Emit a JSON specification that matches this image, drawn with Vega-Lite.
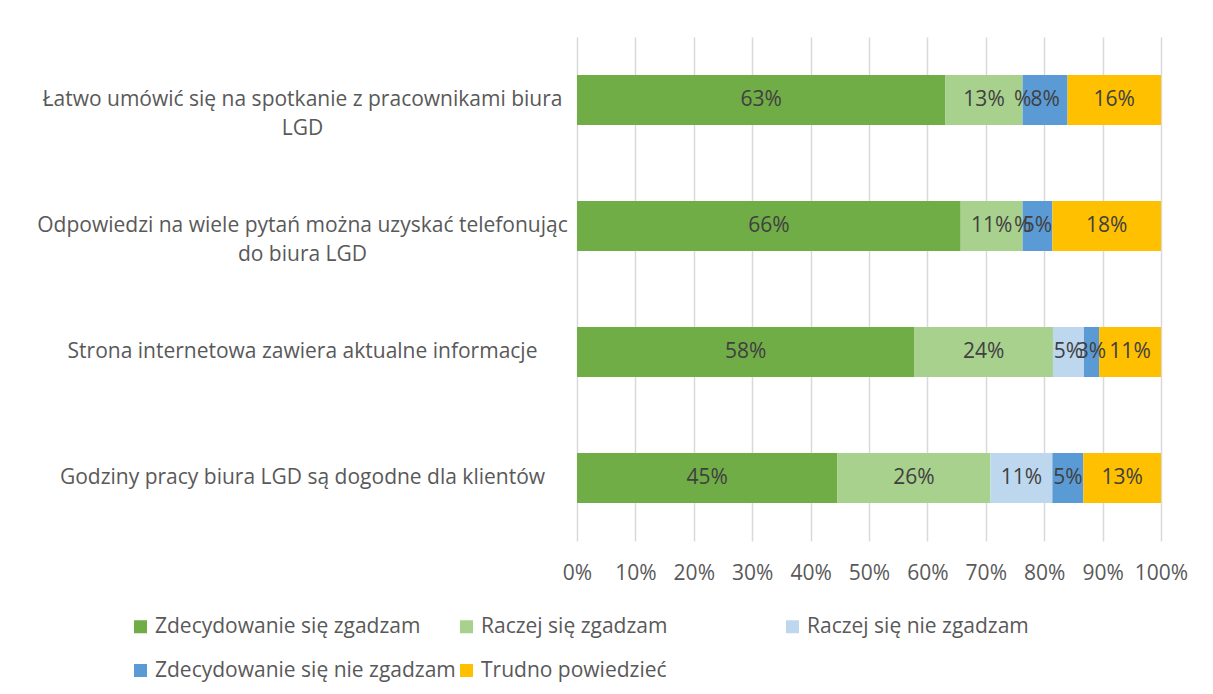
{
  "$schema": "https://vega.github.io/schema/vega-lite/v6.json",
  "width": 584,
  "height": 504,
  "autosize": {"type": "none"},
  "padding": {"left": 577, "top": 37, "right": 52, "bottom": 153},
  "background": "white",
  "config": {"view": {"stroke": null}, "font": "Open Sans"},
  "data": {
    "values": [
      {"q": "Łatwo umówić się na spotkanie z pracownikami biura|LGD", "cat": "Zdecydowanie się zgadzam", "order": 1, "value": 63.1, "label": "63%"},
      {"q": "Łatwo umówić się na spotkanie z pracownikami biura|LGD", "cat": "Raczej się zgadzam", "order": 2, "value": 13.2, "label": "13%"},
      {"q": "Łatwo umówić się na spotkanie z pracownikami biura|LGD", "cat": "Raczej się nie zgadzam", "order": 3, "value": 0, "label": "%"},
      {"q": "Łatwo umówić się na spotkanie z pracownikami biura|LGD", "cat": "Zdecydowanie się nie zgadzam", "order": 4, "value": 7.7, "label": "8%"},
      {"q": "Łatwo umówić się na spotkanie z pracownikami biura|LGD", "cat": "Trudno powiedzieć", "order": 5, "value": 16.0, "label": "16%"},
      {"q": "Odpowiedzi na wiele pytań można uzyskać telefonując|do biura LGD", "cat": "Zdecydowanie się zgadzam", "order": 1, "value": 65.7, "label": "66%"},
      {"q": "Odpowiedzi na wiele pytań można uzyskać telefonując|do biura LGD", "cat": "Raczej się zgadzam", "order": 2, "value": 10.6, "label": "11%"},
      {"q": "Odpowiedzi na wiele pytań można uzyskać telefonując|do biura LGD", "cat": "Raczej się nie zgadzam", "order": 3, "value": 0, "label": "%"},
      {"q": "Odpowiedzi na wiele pytań można uzyskać telefonując|do biura LGD", "cat": "Zdecydowanie się nie zgadzam", "order": 4, "value": 5.1, "label": "5%"},
      {"q": "Odpowiedzi na wiele pytań można uzyskać telefonując|do biura LGD", "cat": "Trudno powiedzieć", "order": 5, "value": 18.6, "label": "18%"},
      {"q": "Strona internetowa zawiera aktualne informacje", "cat": "Zdecydowanie się zgadzam", "order": 1, "value": 57.8, "label": "58%"},
      {"q": "Strona internetowa zawiera aktualne informacje", "cat": "Raczej się zgadzam", "order": 2, "value": 23.7, "label": "24%"},
      {"q": "Strona internetowa zawiera aktualne informacje", "cat": "Raczej się nie zgadzam", "order": 3, "value": 5.3, "label": "5%"},
      {"q": "Strona internetowa zawiera aktualne informacje", "cat": "Zdecydowanie się nie zgadzam", "order": 4, "value": 2.6, "label": "3%"},
      {"q": "Strona internetowa zawiera aktualne informacje", "cat": "Trudno powiedzieć", "order": 5, "value": 10.6, "label": "11%"},
      {"q": "Godziny pracy biura LGD są dogodne dla klientów", "cat": "Zdecydowanie się zgadzam", "order": 1, "value": 44.6, "label": "45%"},
      {"q": "Godziny pracy biura LGD są dogodne dla klientów", "cat": "Raczej się zgadzam", "order": 2, "value": 26.2, "label": "26%"},
      {"q": "Godziny pracy biura LGD są dogodne dla klientów", "cat": "Raczej się nie zgadzam", "order": 3, "value": 10.6, "label": "11%"},
      {"q": "Godziny pracy biura LGD są dogodne dla klientów", "cat": "Zdecydowanie się nie zgadzam", "order": 4, "value": 5.3, "label": "5%"},
      {"q": "Godziny pracy biura LGD są dogodne dla klientów", "cat": "Trudno powiedzieć", "order": 5, "value": 13.3, "label": "13%"}
    ]
  },
  "transform": [
    {"stack": "value", "groupby": ["q"], "sort": [{"field": "order"}], "as": ["v0", "v1"]},
    {"calculate": "(datum.v0 + datum.v1) / 2", "as": "mid"}
  ],
  "encoding": {
    "y": {
      "field": "q",
      "type": "nominal",
      "sort": [
        "Łatwo umówić się na spotkanie z pracownikami biura|LGD",
        "Odpowiedzi na wiele pytań można uzyskać telefonując|do biura LGD",
        "Strona internetowa zawiera aktualne informacje",
        "Godziny pracy biura LGD są dogodne dla klientów"
      ],
      "scale": {"paddingInner": 0, "paddingOuter": 0},
      "axis": {
        "title": null,
        "domain": false,
        "ticks": false,
        "grid": false,
        "labelExpr": "split(datum.value, '|')",
        "labelAlign": "center",
        "labelPadding": 275,
        "labelLimit": 1000,
        "labelFontSize": 21,
        "labelLineHeight": 29,
        "labelColor": "#595959"
      }
    }
  },
  "layer": [
    {
      "mark": {"type": "bar", "size": 50},
      "encoding": {
        "x": {
          "field": "v0",
          "type": "quantitative",
          "scale": {"domain": [0, 100], "nice": false},
          "axis": {
            "title": null,
            "values": [0, 10, 20, 30, 40, 50, 60, 70, 80, 90, 100],
            "labelExpr": "datum.value + '%'",
            "domain": false,
            "ticks": false,
            "grid": true,
            "gridColor": "#d9d9d9",
            "gridWidth": 1.5,
            "labelFontSize": 21,
            "labelColor": "#595959",
            "labelPadding": 21,
            "labelFlush": false
          }
        },
        "x2": {"field": "v1"},
        "color": {
          "field": "cat",
          "type": "nominal",
          "scale": {
            "domain": ["Zdecydowanie się zgadzam", "Raczej się zgadzam", "Raczej się nie zgadzam", "Zdecydowanie się nie zgadzam", "Trudno powiedzieć"],
            "range": ["#70ad47", "#a9d18e", "#bdd7ee", "#5b9bd5", "#ffc000"]
          },
          "legend": {
            "title": null,
            "orient": "none",
            "legendX": -447,
            "legendY": 579,
            "direction": "horizontal",
            "columns": 3,
            "gridAlign": "all",
            "symbolType": "square",
            "symbolSize": 169,
            "symbolStrokeWidth": 0,
            "labelFontSize": 21,
            "labelColor": "#595959",
            "labelOffset": 4,
            "labelLimit": 500,
            "columnPadding": -6,
            "rowPadding": 22
          }
        }
      }
    },
    {
      "mark": {"type": "text", "fontSize": 21, "color": "#404040"},
      "encoding": {
        "x": {"field": "mid", "type": "quantitative"},
        "text": {"field": "label"}
      }
    }
  ]
}
